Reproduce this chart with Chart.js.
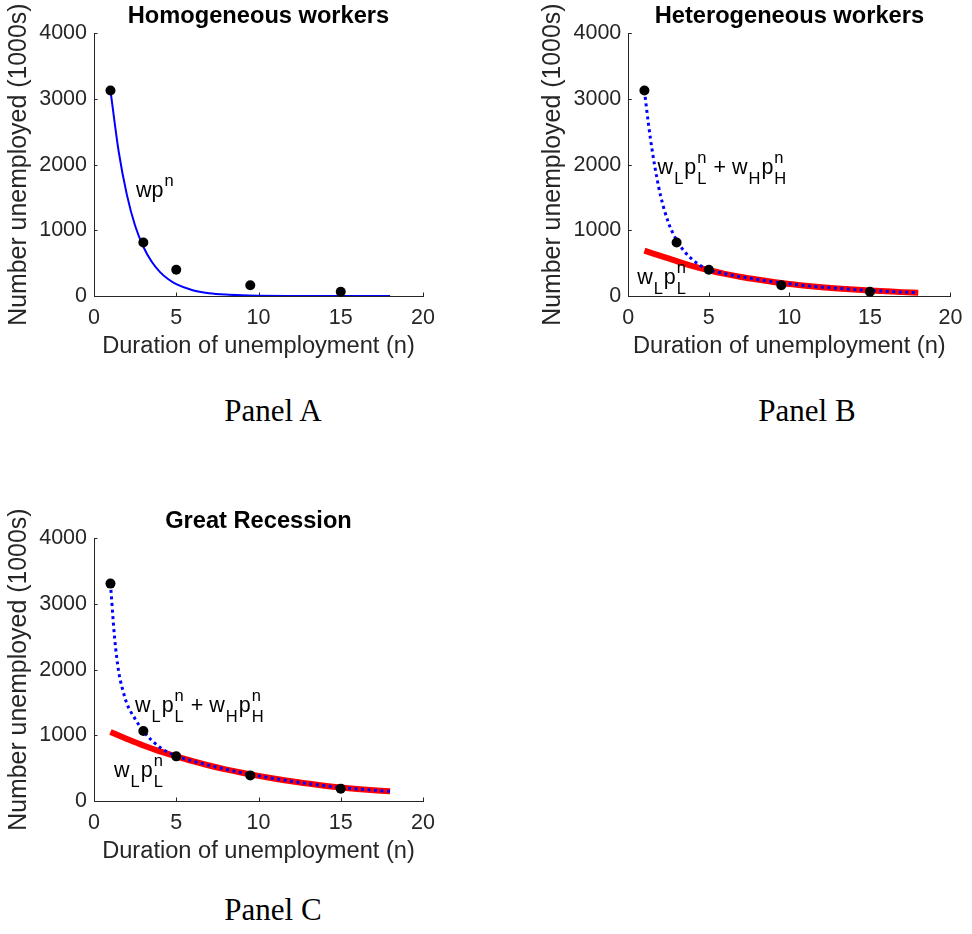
<!DOCTYPE html>
<html>
<head>
<meta charset="utf-8">
<title>Duration of unemployment</title>
<script src="https://cdn.jsdelivr.net/npm/chart.js@4/dist/chart.umd.min.js"></script>
<style>
  html, body { margin: 0; padding: 0; background: #fff; }
  #page { position: relative; width: 972px; height: 934px; overflow: hidden; background: #fff; }
  .panel { position: absolute; }
  .panel canvas { display: block; }
  .caption {
    position: absolute;
    font-family: "Liberation Serif", "Times New Roman", serif;
    font-size: 31px;
    line-height: 31px;
    color: #000;
    white-space: nowrap;
    transform: translateX(-50%);
  }
</style>
</head>
<body>
<div id="page">
  <div class="panel" style="left:0px; top:0px;"><canvas id="chartA" width="460" height="380"></canvas></div>
  <div class="panel" style="left:534px; top:0px;"><canvas id="chartB" width="438" height="380"></canvas></div>
  <div class="panel" style="left:0px; top:505px;"><canvas id="chartC" width="460" height="380"></canvas></div>
  <div class="caption" style="left:273px; top:395px;">Panel A</div>
  <div class="caption" style="left:807px; top:395px;">Panel B</div>
  <div class="caption" style="left:273px; top:894px;">Panel C</div>
</div>
<script>
// Duration bins (months) and observed number unemployed (thousands)
const durationBins = [1, 3, 5, 9.5, 15];
const unemployedNormal = [3130, 815, 400, 165, 65];
const unemployedRecession = [3310, 1065, 680, 390, 188];

// Homogeneous-worker fit  w p^n
const homogN = [1, 1.5, 2, 2.5, 3, 3.5, 4, 4.5, 5, 6, 7, 8, 9, 10, 12, 14, 16, 18];
const homogFit = [3130, 2200, 1540, 1070, 750, 525, 368, 258, 180, 88, 43, 21, 10, 5, 1.2, 0.3, 0.07, 0.02];

// Heterogeneous-worker fits: full mixture and the low-exit-rate component
const mixN = [1, 1.25, 1.5, 1.75, 2, 2.5, 3, 3.5, 4, 4.5, 5, 6, 7, 8, 9, 10, 11, 12, 13, 14, 15, 16, 17, 18];
const heteroMix = [3130, 2620, 2190, 1830, 1530, 1110, 850, 675, 550, 462, 402, 340, 292, 252, 216, 185, 158, 135, 116, 99, 84, 72, 60, 50];
const recessionMix = [3310, 2490, 1970, 1690, 1482, 1250, 1065, 925, 818, 742, 685, 607, 543, 483, 430, 383, 340, 300, 265, 233, 205, 182, 163, 147];

const lowN = [1, 2, 3, 4, 5, 6, 7, 8, 9, 10, 11, 12, 13, 14, 15, 16, 17, 18];
const heteroLow = [690, 610, 530, 455, 392, 337, 290, 250, 214, 183, 157, 134, 115, 98, 83, 71, 59, 48];
const recessionLow = [1050, 945, 845, 757, 680, 607, 541, 482, 430, 383, 340, 300, 265, 233, 205, 182, 163, 147];

// Axis ticks
const xTickValues = [0, 5, 10, 15, 20];
const yTickValues = [0, 1000, 2000, 3000, 4000];

const SANS = 'Liberation Sans, Arial, Helvetica, sans-serif';
const AXIS_GREY = '#262626';

function points(xs, ys) {
  return xs.map((x, i) => ({ x: x, y: ys[i] }));
}

// Inward tick marks on the left and bottom axes
const inwardTicks = {
  id: 'inwardTicks',
  beforeDatasetsDraw(chart) {
    const { ctx, chartArea, scales } = chart;
    const len = 3.5;
    ctx.save();
    ctx.strokeStyle = AXIS_GREY;
    ctx.lineWidth = 1;
    ctx.beginPath();
    scales.x.ticks.forEach(t => {
      const px = Math.round(scales.x.getPixelForValue(t.value)) + 0.5;
      ctx.moveTo(px, chartArea.bottom);
      ctx.lineTo(px, chartArea.bottom - len);
    });
    scales.y.ticks.forEach(t => {
      const py = Math.round(scales.y.getPixelForValue(t.value)) + 0.5;
      ctx.moveTo(chartArea.left, py);
      ctx.lineTo(chartArea.left + len, py);
    });
    ctx.stroke();
    ctx.restore();
  }
};

// Bold panel title above the plotting area
const panelTitle = {
  id: 'panelTitle',
  afterDraw(chart, args, opts) {
    const { ctx, chartArea } = chart;
    ctx.save();
    ctx.font = 'bold 23.65px ' + SANS;
    ctx.fillStyle = '#000';
    ctx.textAlign = 'center';
    ctx.textBaseline = 'alphabetic';
    ctx.fillText(opts.text, (chartArea.left + chartArea.right) / 2, chartArea.top - 10.7);
    ctx.restore();
  }
};

// Formula labels with subscripts and superscripts, anchored in data units
const formulaLabels = {
  id: 'formulaLabels',
  afterDatasetsDraw(chart, args, opts) {
    const { ctx, scales } = chart;
    const mainFont = '21.5px ' + SANS;
    const smallFont = '16.5px ' + SANS;
    ctx.save();
    ctx.fillStyle = '#000';
    ctx.textAlign = 'left';
    ctx.textBaseline = 'alphabetic';
    (opts.items || []).forEach(item => {
      let px = scales.x.getPixelForValue(item.at[0]);
      const py = scales.y.getPixelForValue(item.at[1]);
      item.runs.forEach(run => {
        if (run.text !== undefined) {
          ctx.font = mainFont;
          ctx.fillText(run.text, px, py);
          px += ctx.measureText(run.text).width;
        } else {
          ctx.font = smallFont;
          let w = 0;
          if (run.sub) {
            ctx.fillText(run.sub, px + 1, py + 10);
            w = Math.max(w, ctx.measureText(run.sub).width);
          }
          if (run.sup) {
            ctx.fillText(run.sup, px + 1, py - 11);
            w = Math.max(w, ctx.measureText(run.sup).width);
          }
          px += w + 2;
        }
      });
    });
    ctx.restore();
  }
};

const mixtureRuns = [
  { text: 'w' }, { sub: 'L' }, { text: 'p' }, { sub: 'L', sup: 'n' },
  { text: ' + ' },
  { text: 'w' }, { sub: 'H' }, { text: 'p' }, { sub: 'H', sup: 'n' }
];
const lowRuns = [{ text: 'w' }, { sub: 'L' }, { text: 'p' }, { sub: 'L', sup: 'n' }];
const homogRuns = [{ text: 'wp' }, { sup: 'n' }];

function buildChart(canvasId, cfg) {
  const canvas = document.getElementById(canvasId);
  const W = canvas.width, H = canvas.height;
  const datasets = [
    {
      label: 'observed',
      data: points(durationBins, cfg.observed),
      showLine: false,
      pointRadius: 5,
      pointHoverRadius: 5,
      pointBackgroundColor: '#000',
      pointBorderWidth: 0,
      order: 0,
      clip: false
    }
  ].concat(cfg.lines.map(l => ({
    label: l.label,
    data: points(l.xs, l.ys),
    showLine: true,
    pointRadius: 0,
    pointHoverRadius: 0,
    borderColor: l.color,
    borderWidth: l.width,
    borderDash: l.dash || [],
    borderCapStyle: 'butt',
    cubicInterpolationMode: 'monotone',
    fill: false,
    order: l.order
  })));

  return new Chart(canvas, {
    type: 'scatter',
    data: { datasets: datasets },
    options: {
      responsive: false,
      animation: false,
      events: [],
      layout: { padding: { left: 0, top: 33.3, right: W - cfg.areaRight, bottom: 0 } },
      plugins: {
        legend: { display: false },
        tooltip: { enabled: false },
        panelTitle: { text: cfg.title },
        formulaLabels: { items: cfg.labels }
      },
      scales: {
        x: {
          type: 'linear',
          position: 'bottom',
          min: 0, max: 20,
          afterBuildTicks: s => { s.ticks = xTickValues.map(v => ({ value: v })); },
          afterFit: s => { s.height = H - 296; },
          ticks: {
            color: AXIS_GREY,
            font: { family: SANS, size: 21.5 },
            padding: 9.6,
            maxRotation: 0,
            autoSkip: false,
            callback: v => String(v)
          },
          grid: { display: false, drawTicks: false },
          border: { display: true, color: AXIS_GREY, width: 1 },
          title: {
            display: true,
            text: 'Duration of unemployment (n)',
            color: AXIS_GREY,
            font: { family: SANS, size: 23.65 },
            padding: { top: 0, bottom: 19 }
          }
        },
        y: {
          type: 'linear',
          position: 'left',
          min: 0, max: 4000,
          afterBuildTicks: s => { s.ticks = yTickValues.map(v => ({ value: v })); },
          afterFit: s => { s.width = cfg.areaLeft; },
          ticks: {
            color: AXIS_GREY,
            font: { family: SANS, size: 21.5 },
            padding: 7,
            autoSkip: false,
            callback: v => String(v)
          },
          grid: { display: false, drawTicks: false },
          border: { display: true, color: AXIS_GREY, width: 1 },
          title: {
            display: true,
            text: 'Number unemployed (1000s)',
            color: AXIS_GREY,
            font: { family: SANS, size: 24.9 },
            padding: { top: 4.7, bottom: 0 }
          }
        }
      }
    },
    plugins: [inwardTicks, panelTitle, formulaLabels]
  });
}

buildChart('chartA', {
  title: 'Homogeneous workers',
  areaLeft: 94, areaRight: 423,
  observed: unemployedNormal,
  lines: [
    { label: 'wp^n', xs: homogN, ys: homogFit, color: '#0000ff', width: 2, order: 1 }
  ],
  labels: [ { at: [2.55, 1500], runs: homogRuns } ]
});

buildChart('chartB', {
  title: 'Heterogeneous workers',
  areaLeft: 94.3, areaRight: 423.3,
  observed: unemployedNormal,
  lines: [
    { label: 'mixture', xs: mixN, ys: heteroMix, color: '#0000ff', width: 3, dash: [3, 3.5], order: 1 },
    { label: 'low type', xs: lowN, ys: heteroLow, color: '#ff0000', width: 6, order: 2 }
  ],
  labels: [
    { at: [1.82, 1862], runs: mixtureRuns },
    { at: [0.55, 183], runs: lowRuns }
  ]
});

buildChart('chartC', {
  title: 'Great Recession',
  areaLeft: 94, areaRight: 423,
  observed: unemployedRecession,
  lines: [
    { label: 'mixture', xs: mixN, ys: recessionMix, color: '#0000ff', width: 3, dash: [3, 3.5], order: 1 },
    { label: 'low type', xs: lowN, ys: recessionLow, color: '#ff0000', width: 6, order: 2 }
  ],
  labels: [
    { at: [2.49, 1359], runs: mixtureRuns },
    { at: [1.22, 370], runs: lowRuns }
  ]
});
</script>
</body>
</html>
